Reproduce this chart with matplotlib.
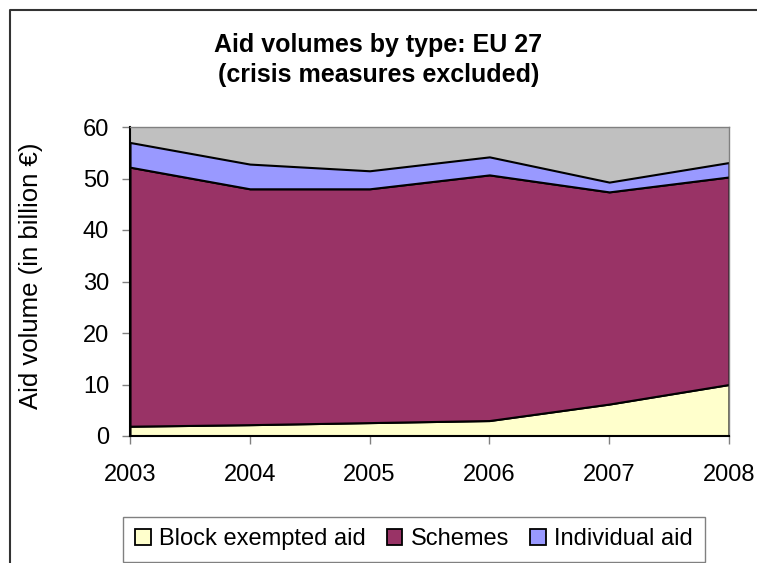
import matplotlib
matplotlib.use("Agg")
import matplotlib.pyplot as plt
from matplotlib.patches import Patch, Rectangle
from matplotlib.lines import Line2D

plt.rcParams['font.family'] = ['Liberation Sans', 'DejaVu Sans']

years = [2003, 2004, 2005, 2006, 2007, 2008]
block_exempted = [1.9, 2.2, 2.6, 3.0, 6.2, 10.0]
schemes = [50.3, 45.8, 45.4, 47.7, 41.2, 40.3]
individual = [4.8, 4.8, 3.5, 3.5, 1.9, 2.8]
series_names = ["Block exempted aid", "Schemes", "Individual aid"]
colors = ["#FFFFCC", "#993366", "#9999FF"]

W, H = 757, 563
fig = plt.figure(figsize=(W / 100, H / 100), dpi=100)
ax = fig.add_axes([130 / W, 1 - 436 / H, (729 - 130) / W, (436 - 127) / H])
ax.set_facecolor("#C0C0C0")

ax.stackplot(years, block_exempted, schemes, individual, colors=colors,
             edgecolor="black", linewidth=1.5)

ax.set_xlim(2003, 2008)
ax.set_ylim(0, 60)
ax.set_xticks(years)
ax.set_xticklabels([str(y) for y in years])
ax.set_yticks(range(0, 61, 10))
ax.tick_params(axis="both", direction="out", length=6, width=1, color="#808080",
               labelsize=17)
ax.tick_params(axis="y", pad=9)
ax.tick_params(axis="x", pad=14)
for s in ["top", "right"]:
    ax.spines[s].set_color("#808080")
    ax.spines[s].set_linewidth(1)
for s in ["left", "bottom"]:
    ax.spines[s].set_color("black")
    ax.spines[s].set_linewidth(1.5)

ax.set_ylabel("Aid volume (in billion €)", fontsize=18.5)
ax.yaxis.set_label_coords((43 - 130) / 599, (436 - 276) / 309)

fig.text(0.5, 1 - 51.7 / H, "Aid volumes by type: EU 27",
         ha="center", va="baseline", fontsize=18, fontweight="bold")
fig.text(0.5, 1 - 81.7 / H, "(crisis measures excluded)",
         ha="center", va="baseline", fontsize=18, fontweight="bold")

# outer chart frame
fig.add_artist(Line2D([10 / W, 10 / W, 1.0], [0, 1 - 10 / H, 1 - 10 / H],
                      transform=fig.transFigure, color="#333333", linewidth=1.5))

# legend box
fig.add_artist(Rectangle((123 / W, 1 - 562 / H), (705 - 123) / W, (562 - 517) / H,
                         transform=fig.transFigure, facecolor="white",
                         edgecolor="#808080", linewidth=1))
handles = [Patch(facecolor=c, edgecolor="black", linewidth=1.3) for c in colors]
fig.legend(handles, series_names, loc="center", ncol=3,
           bbox_to_anchor=(0.5 * (123 + 705) / W, 1 - 539 / H),
           frameon=False, fontsize=17, handlelength=0.65, handleheight=0.65,
           handletextpad=0.35, columnspacing=0.9)

fig.savefig("out.png", dpi=100)
